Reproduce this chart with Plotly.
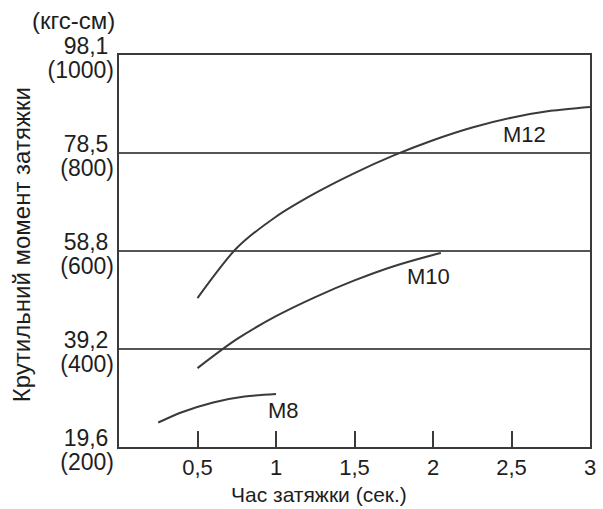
import plotly.graph_objects as go

# Data (torque in kgf-cm vs tightening time in s)
m12_t = [0.5, 0.75, 1.0, 1.25, 1.5, 1.75, 2.0, 2.25, 2.5, 2.75, 3.0]
m12_v = [504, 606, 670, 718, 759, 795, 826, 852, 872, 886, 894]
m10_t = [0.5, 0.75, 1.0, 1.25, 1.5, 1.75, 2.0, 2.05]
m10_v = [361, 420, 467, 506, 540, 569, 592, 596]
m8_t = [0.25, 0.4, 0.6, 0.8, 1.0]
m8_v = [250, 271, 291, 303, 308]

x_ticks = [0.5, 1, 1.5, 2, 2.5, 3]
x_ticktext = ["0,5", "1", "1,5", "2", "2,5", "3"]
y_ticks = [200, 400, 600, 800, 1000]
y_ticktext_nm = ["19,6", "39,2", "58,8", "78,5", "98,1"]
y_ticktext_kgf = ["(200)", "(400)", "(600)", "(800)", "(1000)"]

labels = [("M12", 2.58, 837), ("M10", 1.97, 547), ("M8", 1.05, 275)]

FONT = "Liberation Sans, Arial, sans-serif"
LINE = "#3a3a3a"
TXT = "#1e1e1e"

fig = go.Figure()
for t, v in [(m12_t, m12_v), (m10_t, m10_v), (m8_t, m8_v)]:
    fig.add_trace(go.Scatter(x=t, y=v, mode="lines",
                             line=dict(color=LINE, width=2, shape="spline", smoothing=0.8),
                             showlegend=False, hoverinfo="skip"))
# empty trace so the second tick-label axis is drawn
fig.add_trace(go.Scatter(x=[], y=[], yaxis="y2", showlegend=False, hoverinfo="skip"))

W, H = 603, 509
ml, mr, mt, mb = 119, 7, 55, 62
pw, ph = W - ml - mr, H - mt - mb

anns = []
for name, x, y in labels:
    anns.append(dict(x=x, y=y, xref="x", yref="y", text=name, showarrow=False,
                     font=dict(size=22, color=TXT, family=FONT),
                     xanchor="center", yanchor="middle"))
anns.append(dict(x=(73 - ml) / pw, y=1 + (mt - 20) / ph, xref="paper", yref="paper",
                 text="(кгс-см)", showarrow=False,
                 font=dict(size=24, color=TXT, family=FONT),
                 xanchor="center", yanchor="middle"))
anns.append(dict(x=(21 - ml) / pw, y=1 - (245 - mt) / ph, xref="paper", yref="paper",
                 text="Крутильний момент затяжки", showarrow=False, textangle=-90,
                 font=dict(size=24, color=TXT, family=FONT),
                 xanchor="center", yanchor="middle"))
anns.append(dict(x=(322 - ml) / pw, y=-(495 - mt - ph) / ph, xref="paper", yref="paper",
                 text="Час затяжки (сек.)", showarrow=False,
                 font=dict(size=21, color=TXT, family=FONT),
                 xanchor="center", yanchor="middle"))

tickfont = dict(size=22, color=TXT, family=FONT)
ytickfont = dict(size=23, color=TXT, family=FONT)
fig.update_layout(
    width=W, height=H,
    margin=dict(l=ml, r=mr, t=mt, b=mb),
    paper_bgcolor="white", plot_bgcolor="white",
    annotations=anns,
    xaxis=dict(range=[0, 3], tickvals=x_ticks, ticktext=x_ticktext,
               ticks="inside", ticklen=16, tickwidth=2, tickcolor=LINE,
               showgrid=False, zeroline=False,
               showline=True, linecolor=LINE, linewidth=2, mirror=True,
               tickfont=tickfont),
    yaxis=dict(range=[200, 1000], tickvals=y_ticks, ticktext=y_ticktext_nm,
               ticks="", showgrid=True, gridcolor="#555555", gridwidth=2,
               zeroline=False, showline=True, linecolor=LINE, linewidth=2, mirror=True,
               tickfont=ytickfont, ticklabelstandoff=4, ticklabelshift=-9),
    yaxis2=dict(range=[200, 1000], tickvals=y_ticks, ticktext=y_ticktext_kgf,
                overlaying="y", side="left", anchor="x",
                ticks="", showgrid=False, zeroline=False, showline=False,
                tickfont=ytickfont, ticklabelstandoff=4, ticklabelshift=15),
)

fig.write_html("out.html")
